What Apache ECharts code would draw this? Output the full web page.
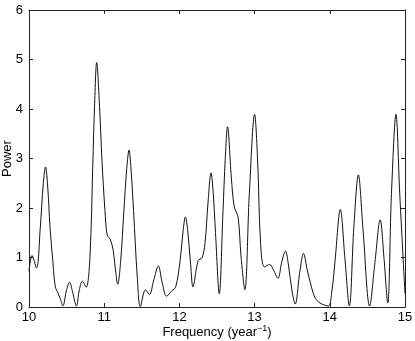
<!DOCTYPE html>
<html>
<head>
<meta charset="utf-8">
<script src="https://cdn.jsdelivr.net/npm/echarts@6/dist/echarts.min.js"></script>
<style>
  html, body { margin: 0; padding: 0; background: #fff; }
  #chart { width: 415px; height: 341px; }
</style>
</head>
<body>
<div id="chart"></div>
<script>
// frequency (year^-1) and power
var freq = [10.00, 10.04, 10.10, 10.15, 10.19, 10.22, 10.25, 10.28, 10.32, 10.35,
    10.39, 10.42, 10.45, 10.50, 10.54, 10.58, 10.63, 10.67, 10.71, 10.76,
    10.81, 10.85, 10.87, 10.90, 10.94, 10.97, 11.01, 11.04, 11.08, 11.12,
    11.15, 11.18, 11.22, 11.26, 11.30, 11.33, 11.36, 11.39, 11.44, 11.48,
    11.55, 11.60, 11.66, 11.72, 11.77, 11.83, 11.90, 11.95, 12.01, 12.05,
    12.08, 12.11, 12.15, 12.18, 12.25, 12.30, 12.34, 12.38, 12.42, 12.45,
    12.48, 12.53, 12.58, 12.61, 12.64, 12.69, 12.73, 12.78, 12.82, 12.87,
    12.93, 13.00, 13.04, 13.08, 13.13, 13.20, 13.25, 13.31, 13.36, 13.41,
    13.45, 13.50, 13.54, 13.60, 13.65, 13.70, 13.74, 13.80, 13.87, 13.98,
    14.03, 14.07, 14.14, 14.20, 14.26, 14.32, 14.38, 14.44, 14.53, 14.60,
    14.67, 14.72, 14.77, 14.82, 14.88, 14.93, 15.00];
var power = [0.72, 1.04, 0.79, 1.60, 2.50, 2.83, 2.40, 1.60, 0.87, 0.41,
    0.27, 0.15, 0.02, 0.35, 0.50, 0.30, 0.02, 0.35, 0.52, 0.40,
    1.00, 2.97, 3.98, 4.94, 3.98, 2.97, 1.95, 1.45, 1.37, 1.14,
    0.75, 0.46, 0.95, 1.90, 2.80, 3.17, 2.70, 1.95, 0.60, 0.01,
    0.35, 0.25, 0.55, 0.83, 0.50, 0.22, 0.33, 0.40, 0.94, 1.55,
    1.82, 1.55, 0.85, 0.41, 0.94, 0.99, 1.28, 2.10, 2.71, 2.30,
    1.50, 0.27, 1.95, 3.00, 3.64, 2.63, 2.02, 1.82, 1.01, 0.35,
    2.29, 3.89, 2.97, 1.28, 0.81, 0.86, 0.75, 0.58, 0.90, 1.13,
    0.85, 0.30, 0.06, 0.70, 1.08, 0.75, 0.50, 0.20, 0.08, 0.02,
    0.35, 0.94, 1.97, 1.00, 0.02, 1.62, 2.67, 1.60, 0.02, 0.90,
    1.76, 1.00, 0.08, 2.29, 3.89, 2.29, 0.27];
var xTicks = [10, 11, 12, 13, 14, 15];
var yTicks = [0, 1, 2, 3, 4, 5, 6];

var fontName = 'Liberation Sans';
var axisColor = '#222';

var chart = echarts.init(document.getElementById('chart'));

var points = freq.map(function (f, i) { return [f, power[i]]; });

function boxAxis(extra) {
    var base = {
        type: 'value',
        axisLine: { show: true, onZero: false, lineStyle: { color: axisColor, width: 1 } },
        axisTick: { show: true, inside: true, length: 4, lineStyle: { color: axisColor } },
        splitLine: { show: false },
        axisLabel: { show: false }
    };
    return Object.assign(base, extra);
}

var option = {
    animation: false,
    backgroundColor: '#fff',
    grid: {
        left: 29, right: 10, top: 10, bottom: 34,
        outerBoundsMode: 'none'
    },
    xAxis: [
        boxAxis({
            min: xTicks[0], max: xTicks[xTicks.length - 1], interval: 1,
            position: 'bottom',
            axisLabel: { show: true, color: '#000', fontFamily: fontName, fontSize: 13, margin: 4 },
            name: 'Frequency (year{sup|\u22121})',
            nameLocation: 'middle',
            nameGap: 17,
            nameMoveOverlap: false,
            nameTextStyle: {
                color: '#000', fontFamily: fontName, fontSize: 13,
                rich: { sup: { fontSize: 9, fontFamily: fontName, color: '#000', padding: [0, 0, 8, 0] } }
            }
        }),
        boxAxis({ min: xTicks[0], max: xTicks[xTicks.length - 1], interval: 1, position: 'top' })
    ],
    yAxis: [
        boxAxis({
            min: yTicks[0], max: yTicks[yTicks.length - 1], interval: 1,
            position: 'left',
            axisLabel: { show: true, color: '#000', fontFamily: fontName, fontSize: 13, margin: 6 },
            name: 'Power',
            nameLocation: 'middle',
            nameGap: 15,
            nameMoveOverlap: false,
            nameTextStyle: { color: '#000', fontFamily: fontName, fontSize: 13 }
        }),
        boxAxis({ min: yTicks[0], max: yTicks[yTicks.length - 1], interval: 1, position: 'right' })
    ],
    series: [{
        type: 'line',
        data: points,
        smooth: 0.35,
        symbol: 'none',
        clip: true,
        lineStyle: { color: '#111', width: 1 }
    }]
};

chart.setOption(option);
</script>
</body>
</html>
